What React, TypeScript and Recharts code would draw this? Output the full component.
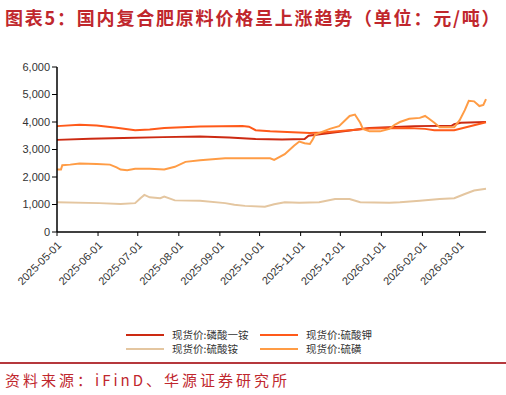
import React from "react";
import { LineChart, Line, XAxis, YAxis, Legend } from "recharts";

// 天数：以 2025-05-01 为第 0 天
const MONTH_TICKS = [0, 31, 61, 92, 123, 153, 184, 214, 245, 276, 304];
const MONTH_LABELS = [
  "2025-05-01", "2025-06-01", "2025-07-01", "2025-08-01", "2025-09-01", "2025-10-01",
  "2025-11-01", "2025-12-01", "2026-01-01", "2026-02-01", "2026-03-01",
];
const Y_TICKS = [0, 1000, 2000, 3000, 4000, 5000, 6000];

const MAP_DAYS = [0, 25, 50, 80, 108, 130, 150, 170, 187, 190, 200, 221, 236, 270, 298, 300, 305, 324];
const MAP_VALUES = [3350, 3390, 3420, 3450, 3470, 3440, 3380, 3360, 3380, 3500, 3560, 3690, 3780, 3850, 3860, 3920, 3970, 4000];

const SOP_DAYS = [0, 17, 30, 45, 59, 70, 81, 108, 140, 145, 150, 161, 191, 200, 221, 236, 266, 278, 285, 300, 324];
const SOP_VALUES = [3850, 3900, 3870, 3790, 3700, 3730, 3780, 3840, 3850, 3830, 3700, 3660, 3600, 3620, 3700, 3760, 3780, 3750, 3700, 3700, 3990];

const AS_DAYS = [0, 32, 48, 59, 63, 66, 70, 78, 81, 89, 108, 127, 134, 142, 157, 164, 172, 183, 198, 210, 221, 229, 251, 259, 274, 289, 300, 308, 315, 324];
const AS_VALUES = [1080, 1050, 1020, 1050, 1230, 1350, 1260, 1230, 1290, 1150, 1140, 1050, 990, 950, 920, 1010, 1080, 1060, 1080, 1200, 1200, 1080, 1060, 1080, 1140, 1200, 1230, 1380, 1510, 1570];

const S_DAYS = [0, 3, 4, 10, 17, 30, 40, 45, 48, 53, 59, 70, 81, 89, 97, 108, 127, 161, 164, 172, 179, 183, 187, 191, 193, 195, 206, 213, 221, 225, 229, 231, 236, 244, 251, 255, 259, 266, 274, 278, 281, 285, 289, 300, 304, 308, 311, 315, 319, 322, 324];
const S_VALUES = [2270, 2270, 2430, 2450, 2490, 2470, 2450, 2350, 2270, 2250, 2300, 2300, 2270, 2370, 2550, 2610, 2680, 2680, 2620, 2830, 3140, 3290, 3230, 3200, 3350, 3540, 3750, 3850, 4220, 4270, 3970, 3750, 3660, 3660, 3750, 3900, 4000, 4120, 4150, 4220, 4120, 3970, 3810, 3810, 4060, 4430, 4770, 4750, 4580, 4620, 4830];

const toRows = (days: number[], values: number[]) => days.map((d, i) => ({ d, v: values[i] }));

const SERIES = [
  { name: "现货价:磷酸一铵", color: "#cc2a12", rows: toRows(MAP_DAYS, MAP_VALUES) },
  { name: "现货价:硫酸钾", color: "#ff5a1a", rows: toRows(SOP_DAYS, SOP_VALUES) },
  { name: "现货价:硫酸铵", color: "#e4c6a0", rows: toRows(AS_DAYS, AS_VALUES) },
  { name: "现货价:硫磺", color: "#ff9c45", rows: toRows(S_DAYS, S_VALUES) },
];

const RED = "#c0272d";
const FONT = '"Liberation Sans", Arial, sans-serif';

function DateTick({ x, y, payload }: any) {
  const i = MONTH_TICKS.indexOf(payload.value);
  return (
    <text
      x={x + 5}
      y={y + 8}
      transform={`rotate(-45 ${x + 5} ${y + 8})`}
      textAnchor="end"
      fontSize={11}
      fill="#333"
      fontFamily={FONT}
    >
      {MONTH_LABELS[i]}
    </text>
  );
}

function LegendBox() {
  const item = (s: (typeof SERIES)[number], lx: number, ly: number) => (
    <div key={s.name} style={{ position: "absolute", left: lx, top: ly, height: 13, display: "flex", alignItems: "center" }}>
      <div style={{ width: 38, height: 2, background: s.color, marginRight: 8 }} />
      <span style={{ fontSize: 10.5, color: "#333", fontFamily: '"Noto Sans CJK SC", sans-serif', lineHeight: "13px" }}>{s.name}</span>
    </div>
  );
  return (
    <div style={{ position: "relative", width: 506, height: 30 }}>
      {item(SERIES[0], 126, 0)}
      {item(SERIES[1], 260, 0)}
      {item(SERIES[2], 126, 14)}
      {item(SERIES[3], 260, 14)}
    </div>
  );
}

export default function App() {
  return (
    <div style={{ position: "absolute", left: 0, top: 0, width: 506, height: 395, background: "#fff", overflow: "hidden" }}>
      <div
        style={{
          position: "absolute", left: 5, top: 5, fontSize: 18, fontWeight: 700, color: RED,
          letterSpacing: 1.8, whiteSpace: "nowrap", fontFamily: '"Noto Sans CJK SC", sans-serif', lineHeight: "24px",
        }}
      >
        图表5：国内复合肥原料价格呈上涨趋势（单位：元/吨）
      </div>
      <div style={{ position: "absolute", left: 0, top: 0 }}>
        <LineChart width={506} height={360} margin={{ top: 67, right: 20, left: 0, bottom: 48 }}>
          <XAxis
            type="number"
            dataKey="d"
            domain={[0, 324]}
            ticks={MONTH_TICKS}
            interval={0}
            tick={<DateTick />}
            tickLine={{ stroke: "#000" }}
            tickSize={4}
            axisLine={{ stroke: "#000", strokeWidth: 1.5 }}
            height={50}
            allowDuplicatedCategory={false}
          />
          <YAxis
            type="number"
            domain={[0, 6000]}
            ticks={Y_TICKS}
            width={57}
            tickSize={5}
            tickFormatter={(v: number) => v.toLocaleString("en-US")}
            tick={{ fontSize: 11, fill: "#333", fontFamily: FONT }}
            tickLine={{ stroke: "#000" }}
            axisLine={{ stroke: "#000", strokeWidth: 1.5 }}
          />
          {SERIES.map((s) => (
            <Line
              key={s.name}
              data={s.rows}
              dataKey="v"
              name={s.name}
              type="linear"
              stroke={s.color}
              strokeWidth={2}
              dot={false}
              isAnimationActive={false}
            />
          ))}
          <Legend verticalAlign="bottom" align="left" content={() => <LegendBox />} wrapperStyle={{ left: 0, top: 328 }} />
        </LineChart>
      </div>
      <div style={{ position: "absolute", left: 0, top: 362, width: 506, height: 2, background: "#b5383c" }} />
      <div
        style={{
          position: "absolute", left: 5, top: 369, fontSize: 15, color: RED, letterSpacing: 3,
          whiteSpace: "nowrap", fontFamily: '"Noto Sans CJK SC", sans-serif', lineHeight: "22px",
        }}
      >
        资料来源：iFinD、华源证券研究所
      </div>
    </div>
  );
}
